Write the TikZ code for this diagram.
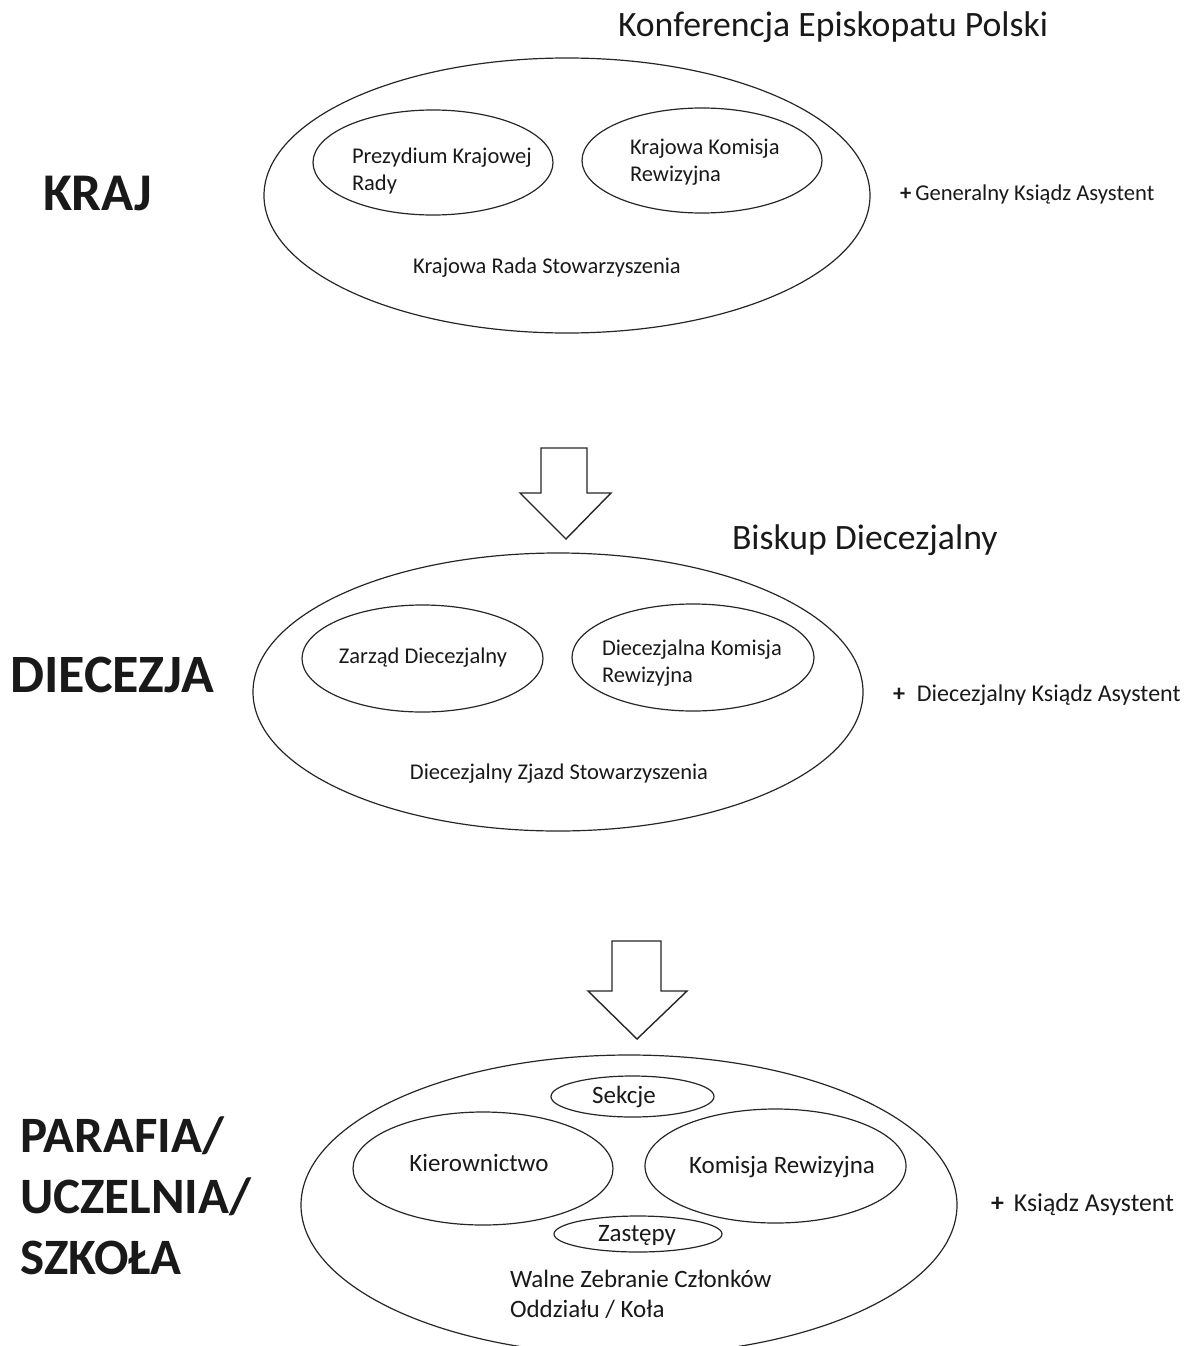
\documentclass[tikz,border=0pt]{standalone}
\usepackage{fontspec}
\setmainfont{Carlito}
\usetikzlibrary{shapes.geometric}
\tikzset{
  oval/.style={draw=black!85, line width=1.2pt, ellipse, inner sep=0pt, outer sep=0pt},
  blockarrow/.style={draw=black!85, line width=1.4pt, fill=white, line join=miter},
  txt/.style={inner sep=0pt, outer sep=0pt, text=black!90},
  small/.style={txt, font=\fontsize{22.5}{26.5}\selectfont},
  mid/.style={txt, font=\fontsize{25}{30}\selectfont},
  big/.style={txt, font=\fontsize{35.7}{42}\selectfont},
  level/.style={txt, font=\fontsize{54}{61}\selectfont\bfseries},
}
\begin{document}
\begin{tikzpicture}[x=1pt, y=-1pt]
\useasboundingbox (0,0) rectangle (1191,1346);
\clip (0,0) rectangle (1191,1346);

% ---------- KRAJ ----------
\node[level, font=\fontsize{53}{61}\selectfont\bfseries, anchor=base west] (kraj) at (43,210) {KRAJ};
\node[big, anchor=base west] (kep) at (618,37) {Konferencja Episkopatu Polski};
\node[oval, minimum width=606pt, minimum height=275pt] (krr) at (567,195.5) {};
\node[oval, minimum width=240pt, minimum height=105pt] (pkr) at (433,162.5) {};
\node[oval, minimum width=240pt, minimum height=105pt] (kkr) at (702,160.5) {};
\node[small, anchor=base west, align=left] (pkrt) at (352,190) {Prezydium Krajowej\\Rady};
\node[small, anchor=base west, align=left] (kkrt) at (630,181) {Krajowa Komisja\\Rewizyjna};
\node[small, anchor=base] (krrt) at (547,273) {Krajowa Rada Stowarzyszenia};
\node[txt, font=\fontsize{22.6}{27}\selectfont, anchor=base west] (gka) at (900,200) {\textbf{+}\hspace{4pt}Generalny Ksiądz Asystent};

% arrow 1
\draw[blockarrow] (541,448) -- (587,448) -- (587,493) -- (611,493) -- (566,539) -- (520,493) -- (541,493) -- cycle;

% ---------- DIECEZJA ----------
\node[level, anchor=base west] (diec) at (10,692) {DIECEZJA};
\node[big, anchor=base west] (bd) at (732,549) {Biskup Diecezjalny};
\node[oval, minimum width=610pt, minimum height=278pt] (dzs) at (558,692) {};
\node[oval, minimum width=241pt, minimum height=107pt] (zd) at (422.5,658.5) {};
\node[oval, minimum width=242pt, minimum height=107pt] (dkr) at (693,657.5) {};
\node[small, anchor=base] (zdt) at (423,663) {Zarząd Diecezjalny};
\node[small, anchor=base west, align=left] (dkrt) at (602,682) {Diecezjalna Komisja\\Rewizyjna};
\node[small, anchor=base] (dzst) at (559,779) {Diecezjalny Zjazd Stowarzyszenia};
\node[txt, font=\fontsize{24}{28}\selectfont, anchor=base west] (dka) at (893,701) {\textbf{+}\hspace{12pt}Diecezjalny Ksiądz Asystent};

% arrow 2
\draw[blockarrow] (612,941) -- (661,941) -- (661,991) -- (687,991) -- (637,1039) -- (588,991) -- (612,991) -- cycle;

% ---------- PARAFIA ----------
\node[level, font=\fontsize{51}{61}\selectfont\bfseries, anchor=base west, align=left] (par) at (20,1274) {PARAFIA/\\UCZELNIA/\\SZKOŁA};
\node[oval, minimum width=656pt, minimum height=300pt] (wz) at (629,1205) {};
\node[oval, minimum width=163pt, minimum height=41pt] (sek) at (632.5,1096.5) {};
\node[oval, minimum width=260pt, minimum height=113pt] (kier) at (483,1168.5) {};
\node[oval, minimum width=261pt, minimum height=114pt] (kom) at (775.5,1166) {};
\node[oval, minimum width=168pt, minimum height=36pt] (zas) at (638,1234) {};
\node[mid, anchor=base] (sekt) at (624,1103) {Sekcje};
\node[mid, anchor=base] (kiert) at (479,1171) {Kierownictwo};
\node[mid, anchor=base] (komt) at (782,1173) {Komisja Rewizyjna};
\node[mid, anchor=base] (zast) at (637,1241) {Zastępy};
\node[mid, anchor=base west, align=left] (wzt) at (510,1317) {Walne Zebranie Członków\\Oddziału / Koła};
\node[txt, font=\fontsize{25.8}{30}\selectfont, anchor=base west] (ka) at (991,1211) {\textbf{+}\hspace{10pt}Ksiądz Asystent};
\end{tikzpicture}
\end{document}
